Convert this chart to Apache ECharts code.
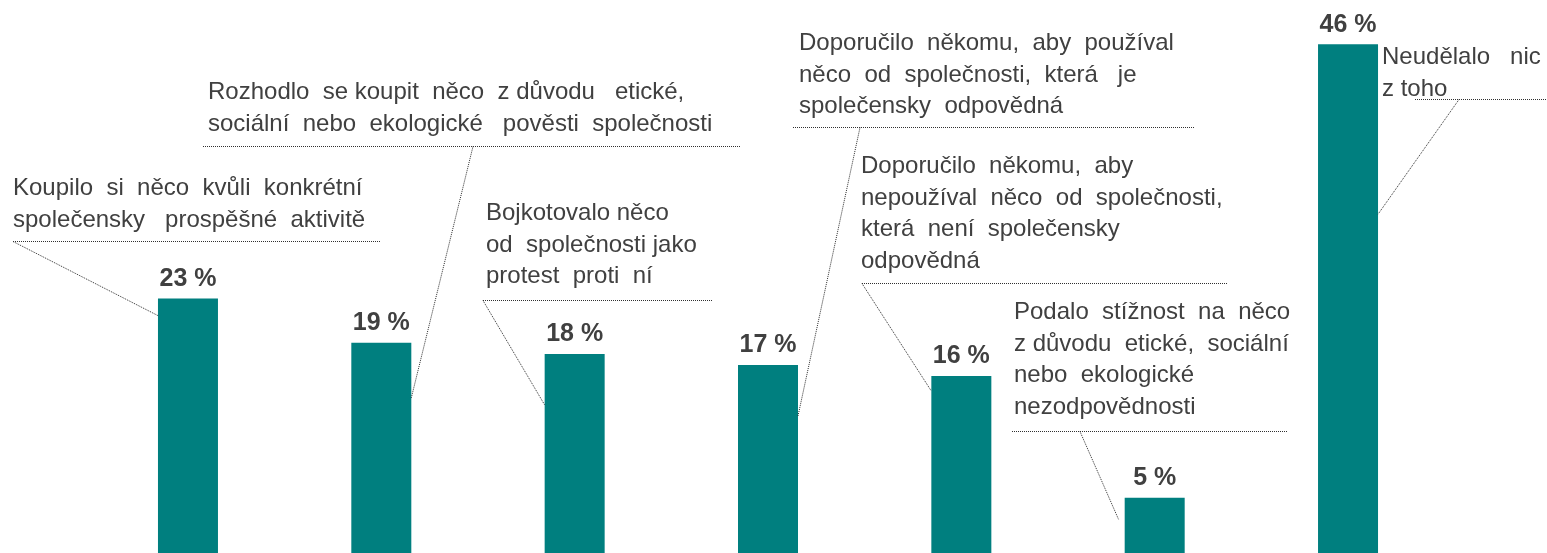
<!DOCTYPE html>
<html><head><meta charset="utf-8">
<script src="https://cdn.jsdelivr.net/npm/echarts@6/dist/echarts.min.js"></script>
<style>html,body{margin:0;padding:0;background:#fff}#c{width:1547px;height:553px}</style>
</head><body><div id="c"></div>
<script>
const categories = [
  "Koupilo si něco kvůli konkrétní společensky prospěšné aktivitě",
  "Rozhodlo se koupit něco z důvodu etické, sociální nebo ekologické pověsti společnosti",
  "Bojkotovalo něco od společnosti jako protest proti ní",
  "Doporučilo někomu, aby používal něco od společnosti, která je společensky odpovědná",
  "Doporučilo někomu, aby nepoužíval něco od společnosti, která není společensky odpovědná",
  "Podalo stížnost na něco z důvodu etické, sociální nebo ekologické nezodpovědnosti",
  "Neudělalo nic z toho"
];
const values = [23, 19, 18, 17, 16, 5, 46];
const labelLines = [
  ["Koupilo  si  něco  kvůli  konkrétní", "společensky   prospěšné  aktivitě"],
  ["Rozhodlo  se koupit  něco  z důvodu   etické,", "sociální  nebo  ekologické   pověsti  společnosti"],
  ["Bojkotovalo něco", "od  společnosti jako", "protest  proti  ní"],
  ["Doporučilo  někomu,  aby  používal", "něco  od  společnosti,  která   je", "společensky  odpovědná"],
  ["Doporučilo  někomu,  aby", "nepoužíval  něco  od  společnosti,", "která  není  společensky", "odpovědná"],
  ["Podalo  stížnost  na  něco", "z důvodu  etické,  sociální", "nebo  ekologické", "nezodpovědnosti"],
  ["Neudělalo   nic", "z toho"]
];

// annotation layout (pixels): text box, dotted underline, leader start, leader end offset from bar top
const annotLayout = [
  {x:13,   y:173, ux0:13,   ux1:380,  uy:241, lx:13,   side:'left',  dy:17},
  {x:208,  y:77,  ux0:203,  ux1:740,  uy:146, lx:473,  side:'right', dy:55},
  {x:486,  y:198, ux0:483,  ux1:713,  uy:300, lx:483,  side:'left',  dy:51},
  {x:799,  y:28,  ux0:793,  ux1:1195, uy:127, lx:860,  side:'right', dy:51},
  {x:861,  y:151, ux0:862,  ux1:1227, uy:283, lx:862,  side:'left',  dy:15},
  {x:1014, y:297, ux0:1012, ux1:1287, uy:431, lx:1080, side:'left',  dy:22, dx:-6},
  {x:1382, y:42,  ux0:1415, ux1:1547, uy:99,  lx:1459, side:'right', dy:170}
];

const FONT = '"Liberation Sans", Arial, sans-serif';
const BAR_W = 60;
const chart = echarts.init(document.getElementById('c'), null, {renderer: 'canvas'});
chart.setOption({
  animation: false,
  backgroundColor: '#ffffff',
  grid: {left: 91.3, right: 102.3, top: -2, bottom: -2, containLabel: false},
  xAxis: {type: 'category', data: categories, show: false},
  yAxis: {type: 'value', min: 0, max: 50, show: false},
  series: [{
    type: 'bar',
    data: values,
    barWidth: BAR_W,
    itemStyle: {color: '#007f7f'},
    label: {
      show: true, position: 'top', distance: 7,
      formatter: '{c} %',
      fontFamily: FONT, fontSize: 25, fontWeight: 'bold', color: '#404040'
    }
  }]
});

const graphics = [];
const dash = {stroke: '#303030', lineWidth: 1, lineDash: [1, 1]};
annotLayout.forEach((a, i) => {
  const top = chart.convertToPixel({xAxisIndex: 0, yAxisIndex: 0}, [i, values[i]]);
  const edgeX = top[0] + (a.side === 'left' ? -BAR_W / 2 : BAR_W / 2) + (a.dx || 0);
  graphics.push({
    type: 'text', x: a.x, y: a.y, z: 10,
    style: {text: labelLines[i].join('\n'), font: '24px ' + FONT, fill: '#404040',
            lineHeight: 31.5, verticalAlign: 'top', align: 'left'}
  });
  graphics.push({type: 'line', z: 10, shape: {x1: a.ux0, y1: a.uy + 0.5, x2: a.ux1, y2: a.uy + 0.5}, style: dash});
  graphics.push({type: 'line', z: 10, shape: {x1: a.lx, y1: a.uy + 0.5, x2: edgeX, y2: top[1] + a.dy}, style: dash});
});
chart.setOption({graphic: graphics});
</script>
</body></html>
